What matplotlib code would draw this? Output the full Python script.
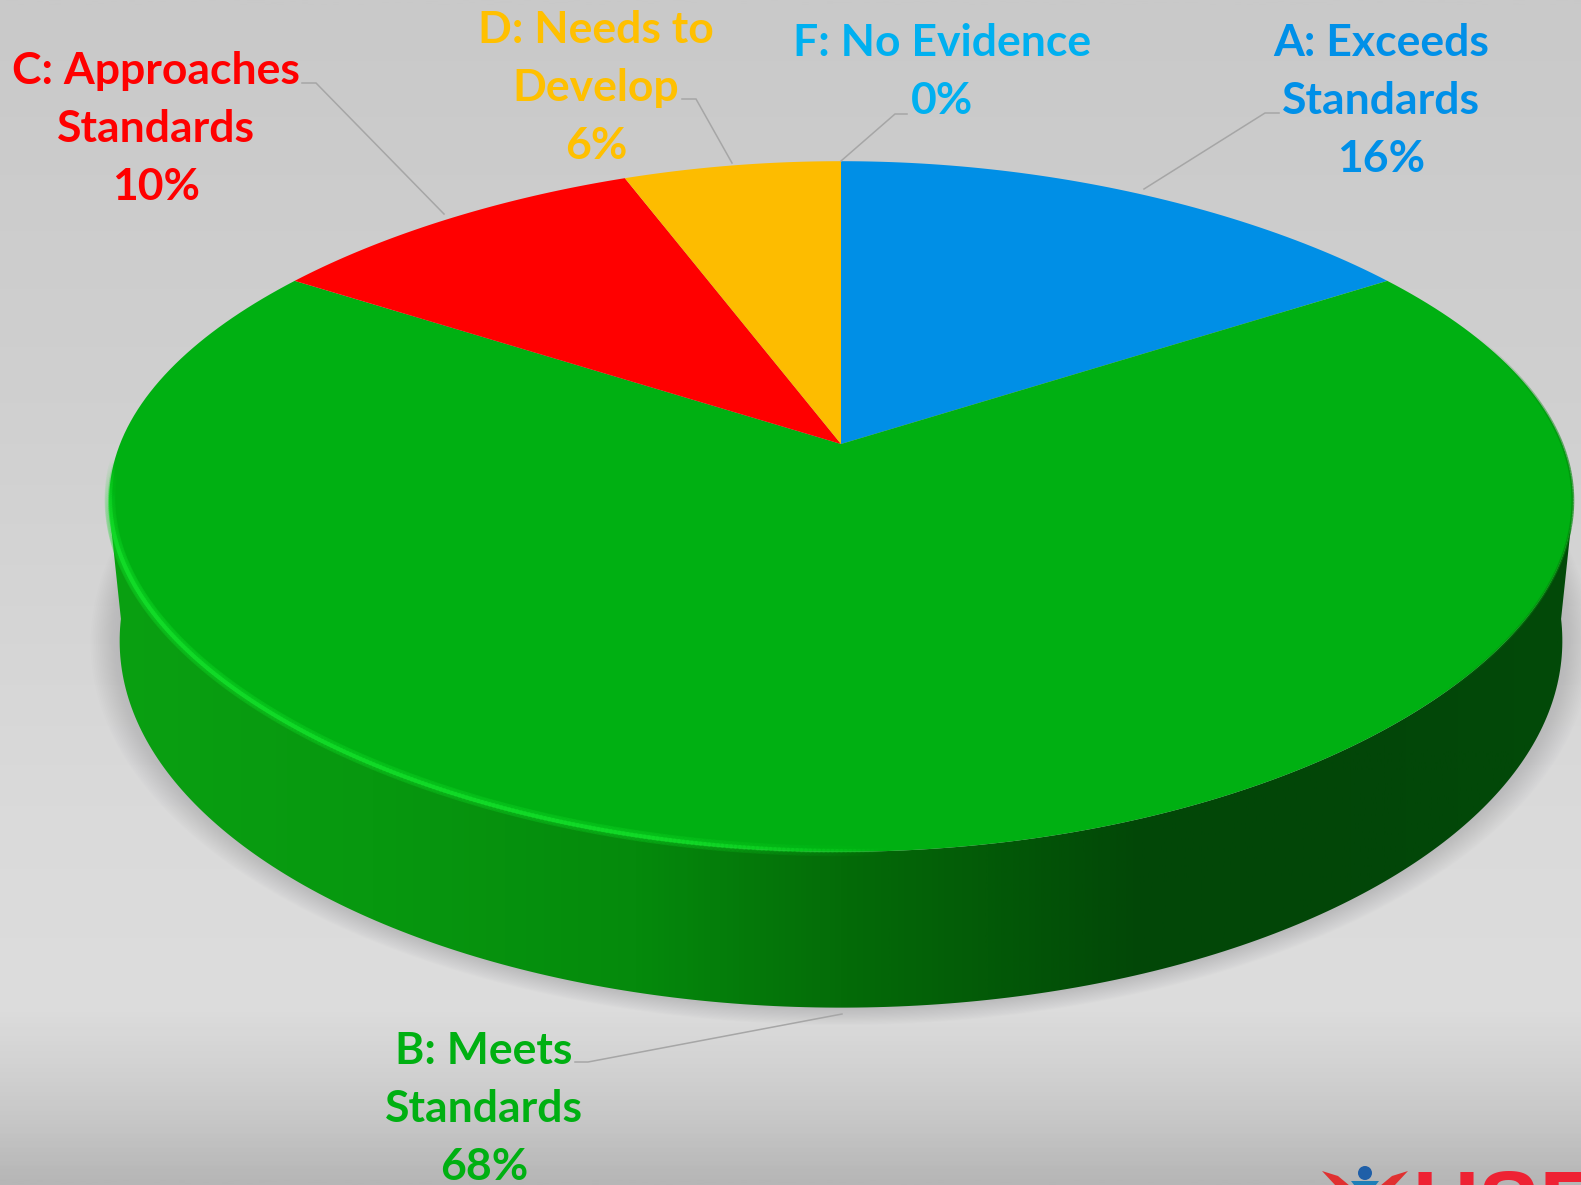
import numpy as np
import matplotlib
matplotlib.use("Agg")
import matplotlib.pyplot as plt
from matplotlib.colors import LinearSegmentedColormap
from matplotlib.patches import Polygon, Circle
from matplotlib.collections import LineCollection
from matplotlib.path import Path
from matplotlib.transforms import Transform

# ---------- data ----------
categories = ["A: Exceeds\nStandards", "B: Meets\nStandards", "C: Approaches\nStandards",
              "D: Needs to\nDevelop", "F: No Evidence"]
values = [16, 68, 10, 6, 0]
slice_colors = ["#008FE6", "#00B012", "#FF0000", "#FDBC00", "#B8C000"]
text_colors = ["#0090E8", "#00B012", "#FF0000", "#FFC000", "#00B0F0"]

W, H = 1581, 1185
fig = plt.figure(figsize=(W / 100, H / 100), dpi=100)
ax = fig.add_axes([0, 0, 1, 1])


class Persp(Transform):
    """Lays the unit pie down on the tilted plane of the chart (pixel units)."""
    input_dims = output_dims = 2
    is_separable = False
    has_inverse = False

    def __init__(self, cx, cy, widths, b, k):
        super().__init__()
        self.p = (cx, cy, widths, b, k)

    def transform_non_affine(self, xy):
        cx, cy, widths, b, k = self.p
        xy = np.asarray(xy, float)
        u, v = xy[:, 0], xy[:, 1]
        return np.column_stack([cx + u * np.polyval(widths, v),
                                cy - b * v / (1 + k * v)])

    def transform_path_non_affine(self, path):
        pieces = [seg(np.linspace(0, 1, 30 if seg.degree > 1 else 2))
                  for seg, _ in path.iter_bezier()]
        return Path(self.transform_non_affine(np.vstack(pieces)))


K = 0.181
top = Persp(841, 444, [-15, -130, 721], 334, K)
bottom = Persp(841, 540, [0, -200, 695], 383, K)

# background
bg_cmap = LinearSegmentedColormap.from_list(
    "bg", [(0, "#c9c9c9"), (0.34, "#d0d0d0"), (0.68, "#dadada"), (0.85, "#dddddd"),
           (0.895, "#d4d4d4"), (0.945, "#c8c8c8"), (1, "#b6b6b6")])
ax.imshow(np.linspace(0, 1, 600)[:, None], cmap=bg_cmap, aspect="auto",
          extent=(0, W, H, 0), zorder=0, vmin=0, vmax=1)


def rim(tr, t0, t1, n=240):
    t = np.linspace(t0, t1, n)
    return tr.transform_non_affine(np.column_stack([np.cos(t), np.sin(t)]))


# soft shadow
full = rim(bottom, 0, 2 * np.pi, 360)
c = full.mean(axis=0)
for g in np.linspace(1.04, 1.002, 16):
    ax.add_patch(Polygon((full - c) * g + c, closed=True,
                         fc="#a4a4a6", ec="none", alpha=0.04, zorder=1))

# side wall
t_left = np.pi + 0.2
t_right = 2 * np.pi - 0.2
outline = np.vstack([rim(bottom, t_left, t_right), rim(top, t_right, t_left)])
side_cmap = LinearSegmentedColormap.from_list(
    "side", [(0, "#0aa012"), (0.18, "#07980f"), (0.36, "#058a0c"), (0.5, "#046c08"),
             (0.6, "#035a07"), (0.7, "#024807"), (0.85, "#024608"), (1, "#024a08")])
im = ax.imshow(np.linspace(0, 1, 800)[None, :], cmap=side_cmap, aspect="auto",
               extent=(109, 1573, 1020, 480), zorder=2, vmin=0, vmax=1)
side = Polygon(outline, closed=True, fc="none", ec="none", transform=ax.transData)
ax.add_patch(side)
im.set_clip_path(side)

# pie face, built by the library from the values and laid on the tilted plane
wedges, _ = ax.pie(values, startangle=90, counterclock=False, colors=slice_colors,
                   radius=1.0, frame=False)
for wd in wedges:
    wd.set_transform(top + ax.transData)
    wd.set_clip_on(False)
    wd.set_zorder(3)
    wd.set_linewidth(0)

# bevel highlight along the near-left rim
pts = rim(top, np.pi + 0.05, 1.52 * np.pi, 300) + np.array([1, -1])
segs = np.stack([pts[:-1], pts[1:]], axis=1)
fade = np.clip(np.sin(np.linspace(0, np.pi, len(segs))) * 1.8, 0, 1)
for lw, al in [(8, 0.14), (3, 0.7)]:
    cols = np.tile(matplotlib.colors.to_rgba("#12dc28"), (len(segs), 1))
    cols[:, 3] = fade * al
    ax.add_collection(LineCollection(segs, colors=cols, linewidths=lw, zorder=4,
                                     capstyle="round"))
# darker shading along the right edge of the face
pts = rim(top, -0.75, 0.35, 120)
segs = np.stack([pts[:-1], pts[1:]], axis=1)
cols = np.tile(matplotlib.colors.to_rgba("#048a0c"), (len(segs), 1))
cols[:, 3] = np.sin(np.linspace(0, np.pi, len(segs))) * 0.7
ax.add_collection(LineCollection(segs, colors=cols, linewidths=2, zorder=4))

# leader lines
leaders = [
    [(1144, 189), (1265, 113), (1279, 113)],
    [(841, 161), (895, 114), (907, 114)],
    [(732, 163), (696, 99), (682, 99)],
    [(444, 214), (316, 83), (302, 83)],
    [(842, 1014), (588, 1062), (575, 1062)],
]
for ln in leaders:
    ax.plot(*zip(*ln), color="#a6a6a6", lw=1.1, zorder=5, solid_joinstyle="miter")

# labels
positions = [(1381, 101), (484, 1109), (156, 129), (596, 88), (942, 72)]
for cat, val, col, (x, y) in zip(categories, values, text_colors, positions):
    ax.text(x, y, f"{cat}\n{val}%", color=col, ha="center", va="center", ma="center",
            fontfamily="Lato", fontweight="bold", fontsize=32, linespacing=1.55, zorder=6)

# logo fragment at the lower-right corner
ax.add_patch(Circle((1365, 1173), 7, fc="#1f5fa8", ec="none", zorder=6))
ax.add_patch(Polygon([(1351, 1181), (1379, 1181), (1372, 1190), (1358, 1190)],
                     fc="#1f7fb8", ec="none", zorder=6))
ax.add_patch(Polygon([(1322, 1171), (1338, 1176), (1350, 1186), (1336, 1186)],
                     fc="#e03030", ec="none", zorder=6))
ax.add_patch(Polygon([(1408, 1171), (1392, 1176), (1380, 1186), (1394, 1186)],
                     fc="#e03030", ec="none", zorder=6))
ax.text(1413, 1169, "USE", color="#ee2233", fontfamily="Liberation Sans", fontweight="bold",
        fontsize=66, ha="left", va="top", zorder=6, clip_on=True)

ax.set_aspect("auto")
ax.set_xlim(0, W)
ax.set_ylim(H, 0)
ax.set_axis_off()
fig.savefig("out.png", dpi=100)
